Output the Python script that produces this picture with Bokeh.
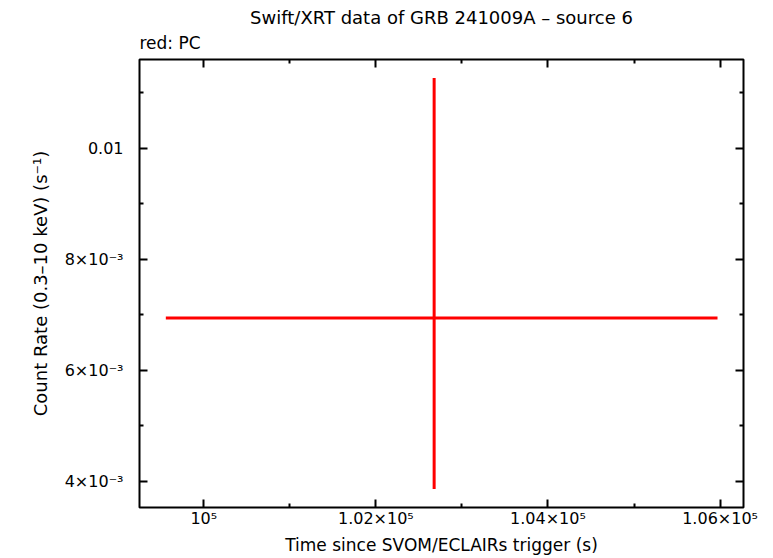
from bokeh.plotting import figure
from bokeh.models import (LinearAxis, FixedTicker, CustomJSTickFormatter, Range1d, Title,
                          ColumnDataSource, CustomLabelingPolicy)
from bokeh.embed import file_html
from bokeh.resources import INLINE

# ---- data ----
t_mid = [102677.0]
t_lo = [99559.0]
t_hi = [105970.0]
rate = [0.006939]
rate_lo = [0.003862]
rate_hi = [0.011259]

x_ticks = [100000, 102000, 104000, 106000]
x_minor = [99000, 101000, 103000, 105000]
x_labels = ["10⁵", "1.02×10⁵", "1.04×10⁵", "1.06×10⁵"]
y_ticks = [0.004, 0.006, 0.008, 0.010]
y_minor = [0.005, 0.007, 0.009, 0.011]
y_labels = ["4×10⁻³", "6×10⁻³", "8×10⁻³", "0.01"]

FONT = "DejaVu Sans"

p = figure(width=765, height=558, output_backend="svg", toolbar_location=None,
           x_range=Range1d(99253, 106272), y_range=Range1d(0.003527, 0.011594),
           min_border_left=139, min_border_right=22, min_border_top=59, min_border_bottom=51,
           x_axis_label="Time since SVOM/ECLAIRs trigger (s)",
           y_axis_label="Count Rate (0.3–10 keV) (s⁻¹)")
p.grid.visible = False
p.outline_line_color = "black"
p.outline_line_width = 2
p.background_fill_color = "white"
p.border_fill_color = "white"

fmt_code = """
let best = 0, d = Infinity;
for (let i = 0; i < vals.length; i++) { const e = Math.abs(vals[i] - tick); if (e < d) { d = e; best = i; } }
return labs[best];
"""
xfmt = CustomJSTickFormatter(args=dict(vals=x_ticks, labs=x_labels), code=fmt_code)
yfmt = CustomJSTickFormatter(args=dict(vals=y_ticks, labs=y_labels), code=fmt_code)

def style(ax, labels=True):
    ax.axis_line_color = None
    ax.major_tick_in = 8
    ax.major_tick_out = 0
    ax.minor_tick_in = 4
    ax.minor_tick_out = 0
    ax.major_tick_line_width = 2
    ax.minor_tick_line_width = 2
    ax.major_label_text_font = FONT
    ax.major_label_text_font_size = "16px" if labels else "1px"
    ax.major_label_text_color = "black"
    ax.axis_label_text_font = FONT
    ax.axis_label_text_font_style = "normal"
    ax.axis_label_text_font_size = "17px"
    ax.axis_label_text_color = "black"
    if not labels:
        ax.major_label_policy = CustomLabelingPolicy(code="return new Set()")
        ax.major_label_standoff = 0

xb = p.xaxis[0]
xb.ticker = FixedTicker(ticks=x_ticks, minor_ticks=x_minor)
xb.formatter = xfmt
style(xb)
xb.major_label_standoff = 1
xb.axis_label_standoff = 4

yl = p.yaxis[0]
yl.ticker = FixedTicker(ticks=y_ticks, minor_ticks=y_minor)
yl.formatter = yfmt
style(yl)
yl.major_label_standoff = 16
yl.axis_label_standoff = 11
yl.axis_label_text_font_size = "18px"

xt = LinearAxis(ticker=FixedTicker(ticks=x_ticks, minor_ticks=x_minor))
style(xt, labels=False)
p.add_layout(xt, "above")
yr = LinearAxis(ticker=FixedTicker(ticks=y_ticks, minor_ticks=y_minor))
style(yr, labels=False)
p.add_layout(yr, "right")

p.add_layout(Title(text="red: PC", align="left", text_font=FONT, text_font_size="17px",
                   text_font_style="normal", text_color="black", standoff=6), "above")
p.add_layout(Title(text="Swift/XRT data of GRB 241009A – source 6", align="center", text_font=FONT,
                   text_font_size="18px", text_font_style="normal", text_color="black",
                   standoff=0), "above")

src = ColumnDataSource(dict(t=t_mid, tlo=t_lo, thi=t_hi, r=rate, rlo=rate_lo, rhi=rate_hi))
p.segment(x0="tlo", x1="thi", y0="r", y1="r", source=src, line_color="#ff0000", line_width=3)
p.segment(x0="t", x1="t", y0="rlo", y1="rhi", source=src, line_color="#ff0000", line_width=3)

open("out.html", "w").write(file_html(p, INLINE))
